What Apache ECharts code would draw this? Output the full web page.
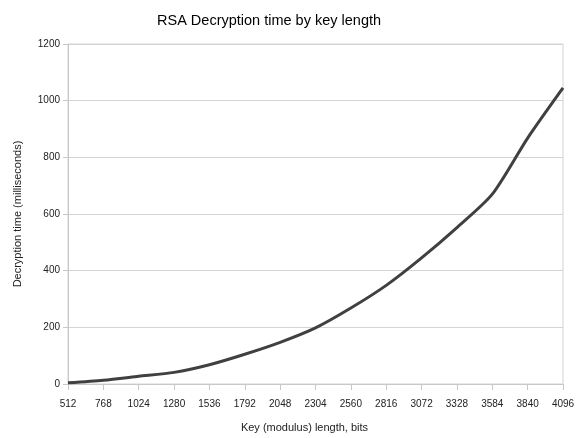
<!DOCTYPE html>
<html><head><meta charset="utf-8">
<script src="https://cdn.jsdelivr.net/npm/echarts@6/dist/echarts.min.js"></script>
<style>html,body{margin:0;padding:0;background:#fff}#c{width:578px;height:438px}</style>
</head><body><div id="c"></div>
<script>
const keyLengths = [512, 768, 1024, 1280, 1536, 1792, 2048, 2304, 2560, 2816, 3072, 3328, 3584, 3840, 4096];
const decryptMs = [4, 13, 27, 41, 68, 105, 147, 198, 268, 348, 445, 552, 670, 868, 1045];
const titleText = 'RSA Decryption time by key length';
const xName = 'Key (modulus) length, bits';
const yName = 'Decryption time (milliseconds)';

const chart = echarts.init(document.getElementById('c'));
const axisFont = 'Liberation Sans Narrow, Liberation Sans, Arial, sans-serif';
chart.setOption({
  animation: false,
  title: { text: titleText, left: 152, top: 8,
    textStyle: { fontFamily: 'Liberation Sans, Arial, sans-serif', fontWeight: 'normal', fontSize: 14.5, color: '#000' } },
  grid: { left: 68, right: 15, top: 44, bottom: 51, show: true, borderColor: '#d4d4d4', borderWidth: 1 },
  xAxis: {
    type: 'value', min: 512, max: 4096, interval: 256,
    name: xName, nameLocation: 'middle', nameGap: 38,
    nameTextStyle: { fontFamily: axisFont, fontSize: 11, color: '#222', padding: [0, 22, 0, 0] },
    axisLine: { lineStyle: { color: '#c8c8c8' } },
    axisTick: { show: true, length: 6, lineStyle: { color: '#c8c8c8' } },
    axisLabel: { fontFamily: axisFont, fontSize: 10, color: '#222', margin: 15, formatter: v => String(v) },
    splitLine: { show: false }
  },
  yAxis: {
    type: 'value', min: 0, max: 1200, interval: 200,
    name: yName, nameLocation: 'middle', nameGap: 45,
    nameTextStyle: { fontFamily: axisFont, fontSize: 11, color: '#222' },
    axisLine: { show: true, lineStyle: { color: '#c8c8c8' } },
    axisTick: { show: true, length: 5, lineStyle: { color: '#c8c8c8' } },
    axisLabel: { fontFamily: axisFont, fontSize: 10, color: '#222', margin: 8, formatter: v => String(v) },
    splitLine: { show: true, lineStyle: { color: '#d4d4d4' } }
  },
  series: [{
    type: 'line', smooth: 0.25, showSymbol: false,
    data: keyLengths.map((k, i) => [k, decryptMs[i]]),
    lineStyle: { color: '#404040', width: 3 }
  }]
});
</script></body></html>
